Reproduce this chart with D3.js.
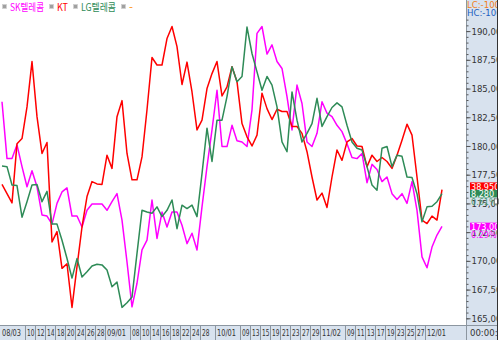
<!DOCTYPE html>
<html lang="ko">
<head>
<meta charset="utf-8">
<title>SK텔레콤 / KT / LG텔레콤</title>
<style type="text/css">
    body { margin: 0; background: #fff; }
    svg { display: block; }
    .tick text { font-family: 'Liberation Sans Narrow', 'DejaVu Sans Condensed', sans-serif; }
</style>
<script type="text/javascript" src="https://d3js.org/d3.v7.min.js"></script>
</head>
<body>
<script type="text/javascript">
    // trading day index 0 = 08/03 ... 88 = last day
    var tickDays   = [0, 5, 7, 9, 11, 13, 15, 17, 19, 21, 26, 28, 30, 32, 34, 36, 38, 40, 43, 48, 50, 52, 54, 56, 58, 60, 62, 64, 69, 71, 73, 75, 77, 79, 81, 83, 85];
    var tickLabels = ["08/03", "10", "12", "14", "18", "20", "24", "26", "28", "09/01", "08", "10", "14", "16", "18", "22", "24", "28", "10/01", "09", "13", "15", "19", "21", "23", "27", "29", "11/02", "09", "11", "13", "17", "19", "23", "25", "27", "12/01"];

    var yTicks = [165000, 167500, 170000, 172500, 175000, 177500, 180000, 182500, 185000, 187500, 190000];

    var seriesNames  = ["SK텔레콤", "KT", "LG텔레콤", "-"];
    var seriesColors = ["#ff00ff", "#ff0000", "#2e8b57", "#ff8c00"];

    var skTelecom = [183850, 178900, 178900, 180100, 178200, 176450, 177850, 176450, 174000, 173900,
        173200, 175000, 176000, 176350, 173900, 173900, 172950, 174400, 174950, 174950,
        174950, 174400, 175150, 175850, 173550, 169900, 166000, 168050, 170950, 171800,
        175300, 171950, 174250, 172950, 174250, 174250, 173100, 171500, 172400, 170950,
        174700, 178200, 181400, 184850, 179950, 179950, 181800, 180450, 180350, 179950,
        183150, 189800, 190400, 188000, 188800, 187350, 186750, 184300, 181400, 185300,
        183700, 180350, 179950, 181100, 183850, 182850, 182550, 181800, 181250, 180200,
        179000, 178900, 179350, 176800, 178400, 177950, 176900, 177300, 175850, 175350,
        175850, 175000, 176900, 174400, 170350, 169400, 171200, 172250, 173000];

    var kt = [176650, 175850, 175050, 180200, 180650, 183400, 187350, 182550, 179350, 180300,
        171650, 172550, 169350, 169750, 165950, 169500, 172950, 175600, 176900, 176700,
        176650, 179200, 178050, 182550, 183950, 179350, 177050, 177050, 179050, 183150,
        187700, 187050, 187050, 189350, 190400, 188650, 185350, 187300, 184700, 181400,
        182250, 185000, 186300, 187350, 184350, 185150, 186900, 185600, 181950, 180800,
        180000, 180950, 184600, 183250, 182300, 183200, 183000, 183000, 181700, 181700,
        181100, 179500, 177300, 175300, 175900, 174650, 177300, 179650, 178750, 180350,
        180650, 180000, 179950, 178200, 179200, 178650, 179000, 178650, 178050, 179200,
        180500, 181900, 180950, 177300, 173550, 173250, 173900, 173550, 176200];

    var lgTelecom = [178250, 178200, 176600, 176550, 173800, 175150, 176600, 176650, 175150, 176050,
        173200, 173200, 171800, 170200, 168500, 170200, 168600, 169050, 169550, 169700,
        169650, 169200, 167750, 168150, 165950, 166350, 166850, 170650, 174400, 174250,
        174150, 174700, 173850, 174400, 175300, 172800, 174850, 174550, 174850, 173850,
        177600, 181550, 178650, 182250, 182250, 184300, 186900, 185600, 186050, 190350,
        188050, 186450, 184850, 186050, 185300, 183400, 180350, 179500, 184700, 182250,
        180350, 181100, 181950, 184150, 181700, 182550, 183350, 183750, 183400, 181800,
        180350, 179800, 179650, 178200, 176600, 176150, 179800, 179950, 178200, 179200,
        179100, 177300, 177250, 175850, 173400, 174700, 174750, 175150, 175850];

    // last-value tags on the right axis
    var lastLabels = ["173,000", "38,950", "8,280"];
    var changeLabels = ["0.29%", "", "0.61%"];

    var svgW = 500;
    var svgH = 340;
    var plotR = 466;   // right edge of plot / start of price axis
    var plotB = 325;   // bottom of plot / start of date axis
    var edgeR = 497;
    var panelFill = "#d8e2ee";
    var textFont = "'Liberation Sans Narrow', 'DejaVu Sans Condensed', sans-serif";
    var krFont = "'Noto Sans CJK KR', 'Noto Sans', sans-serif";

    var svg = d3.select("body").append("svg")
        .attr("width", svgW)
        .attr("height", svgH);

    svg.append("rect")
        .attr("width", svgW).attr("height", svgH)
        .attr("fill", "#fff");

    var x = d3.scaleLinear().domain([0, 88]).range([2, 442]);
    var y = d3.scaleLinear().domain([165000, 190000]).range([318.3, 31.1]);

    /* PANELS */

    svg.append("rect")
        .attr("x", plotR).attr("y", 0)
        .attr("width", edgeR - plotR).attr("height", svgH)
        .attr("fill", panelFill);

    svg.append("rect")
        .attr("x", 0).attr("y", plotB)
        .attr("width", edgeR).attr("height", svgH - plotB)
        .attr("fill", panelFill);

    svg.append("line")
        .attr("x1", 0).attr("x2", edgeR)
        .attr("y1", plotB + 0.5).attr("y2", plotB + 0.5)
        .attr("stroke", "#8c96a0");

    svg.append("line")
        .attr("x1", plotR + 0.5).attr("x2", plotR + 0.5)
        .attr("y1", 0).attr("y2", svgH)
        .attr("stroke", "#8c96a0");

    /* PRICE AXIS (right) */

    var clipR = svg.append("clipPath").attr("id", "clipR");
    clipR.append("rect")
        .attr("x", plotR).attr("y", 17)
        .attr("width", edgeR - plotR).attr("height", plotB - 17);

    var gRight = svg.append("g").attr("clip-path", "url(#clipR)");

    var yMinor = gRight.append("g")
        .attr("transform", "translate(" + (plotR + 0.5) + ",0)")
        .call(d3.axisRight(y)
            .tickValues(d3.range(165000, 192501, 500))
            .tickSize(2)
            .tickFormat(""));
    yMinor.select(".domain").remove();
    yMinor.selectAll("line").attr("stroke", "#555");

    var yAxis = gRight.append("g")
        .attr("transform", "translate(" + (plotR + 0.5) + ",0)")
        .call(d3.axisRight(y)
            .tickValues(yTicks)
            .tickSize(4)
            .tickPadding(1)
            .tickFormat(d3.format(",")));
    yAxis.select(".domain").remove();
    yAxis.selectAll("line").attr("stroke", "#555");
    yAxis.selectAll("text")
        .attr("fill", "#333")
        .attr("font-size", 9.5);

    var clipTop = svg.append("clipPath").attr("id", "clipTop");
    clipTop.append("rect")
        .attr("x", plotR).attr("y", 0)
        .attr("width", edgeR - plotR).attr("height", 20);
    var gTop = svg.append("g").attr("clip-path", "url(#clipTop)");
    gTop.append("text")
        .attr("x", plotR + 1).attr("y", 8)
        .attr("font-family", textFont).attr("font-size", 9.5)
        .attr("fill", "#f08020")
        .text("LC:-100");
    gTop.append("text")
        .attr("x", plotR + 1).attr("y", 16)
        .attr("font-family", textFont).attr("font-size", 9.5)
        .attr("fill", "#2060c0")
        .text("HC:-100");

    /* DATE AXIS (bottom) */

    var xAxis = svg.append("g");
    tickDays.forEach(function (d, i) {
        var px = Math.round(x(d)) - 1.5;
        if (i > 0) {
            xAxis.append("line")
                .attr("x1", px).attr("x2", px)
                .attr("y1", plotB).attr("y2", svgH)
                .attr("stroke", "#8c96a0");
        }
        var lbl = tickLabels[i];
        xAxis.append("text")
            .attr("x", px + 1.5)
            .attr("y", plotB + 11)
            .attr("font-family", textFont)
            .attr("font-size", 9.5)
            .attr("fill", "#333")
            .attr("textLength", lbl.length > 2 ? 19 : 7.5)
            .attr("lengthAdjust", "spacingAndGlyphs")
            .text(lbl);
    });

    var clipBR = svg.append("clipPath").attr("id", "clipBR");
    clipBR.append("rect")
        .attr("x", plotR).attr("y", plotB)
        .attr("width", edgeR - plotR).attr("height", svgH - plotB);
    svg.append("g").attr("clip-path", "url(#clipBR)")
        .append("text")
        .attr("x", plotR + 4).attr("y", plotB + 11)
        .attr("font-family", textFont).attr("font-size", 9.5)
        .attr("fill", "#333")
        .text("00:00:00");

    /* LINES */

    var clipP = svg.append("clipPath").attr("id", "clipP");
    clipP.append("rect")
        .attr("x", 0).attr("y", 0)
        .attr("width", plotR).attr("height", plotB);

    var line = d3.line()
        .x(function (d, i) { return x(i); })
        .y(function (d) { return y(d); });

    var allSeries = [skTelecom, kt, lgTelecom];
    var gLines = svg.append("g").attr("clip-path", "url(#clipP)");
    allSeries.forEach(function (s, k) {
        gLines.append("path")
            .datum(s)
            .attr("d", line)
            .attr("fill", "none")
            .attr("stroke", seriesColors[k])
            .attr("stroke-width", 1.5)
            .attr("stroke-linejoin", "round");
    });

    /* LEGEND */

    var legendW = [34, 11, 35, 4];
    var lx = 2;
    seriesNames.forEach(function (name, k) {
        svg.append("rect")
            .attr("x", lx + 0.5).attr("y", 4.5)
            .attr("width", 4).attr("height", 4)
            .attr("fill", "#a0a0a0")
            .attr("stroke", "#d0d0d0")
            .attr("stroke-width", 0.8);
        svg.append("text")
            .attr("x", lx + 8).attr("y", 11)
            .attr("font-family", krFont)
            .attr("font-size", 10.5)
            .attr("fill", seriesColors[k])
            .attr("textLength", legendW[k])
            .attr("lengthAdjust", "spacingAndGlyphs")
            .text(name);
        lx += 8 + legendW[k] + 5;
    });

    /* LAST VALUE TAGS */

    var clipTag = svg.append("clipPath").attr("id", "clipTag");
    clipTag.append("rect")
        .attr("x", plotR).attr("y", 0)
        .attr("width", edgeR - plotR).attr("height", plotB);
    var gTags = svg.append("g").attr("clip-path", "url(#clipTag)");

    var tagH = 7.5;
    var tagY = allSeries.map(function (s) { return y(s[s.length - 1]) - tagH / 2; });
    // KT tag sits right above LG tag when they collide
    if (tagY[1] + tagH > tagY[2]) { tagY[1] = tagY[2] - tagH; }

    allSeries.forEach(function (s, k) {
        gTags.append("rect")
            .attr("x", plotR + 4).attr("y", tagY[k])
            .attr("width", edgeR - plotR - 4).attr("height", tagH)
            .attr("fill", seriesColors[k]);
        gTags.append("text")
            .attr("x", plotR + 5).attr("y", tagY[k] + tagH - 0.3)
            .attr("font-family", textFont).attr("font-size", 9)
            .attr("fill", "#fff")
            .text(lastLabels[k]);
        if (changeLabels[k]) {
            gTags.append("text")
                .attr("x", plotR + 5).attr("y", tagY[k] + tagH + 7.5)
                .attr("font-family", textFont).attr("font-size", 9)
                .attr("fill", k === 0 ? "#ff00ff" : "#4a9a70")
                .text(changeLabels[k]);
        }
    });

    svg.append("rect")
        .attr("x", edgeR - 2.5).attr("y", tagY[2] + tagH + 1.5)
        .attr("width", 4).attr("height", 5)
        .attr("fill", "#fff")
        .attr("stroke", "#777")
        .attr("stroke-width", 0.8);

    svg.append("line")
        .attr("x1", edgeR + 0.5).attr("x2", edgeR + 0.5)
        .attr("y1", 0).attr("y2", svgH)
        .attr("stroke", "#333");
</script>
</body>
</html>
